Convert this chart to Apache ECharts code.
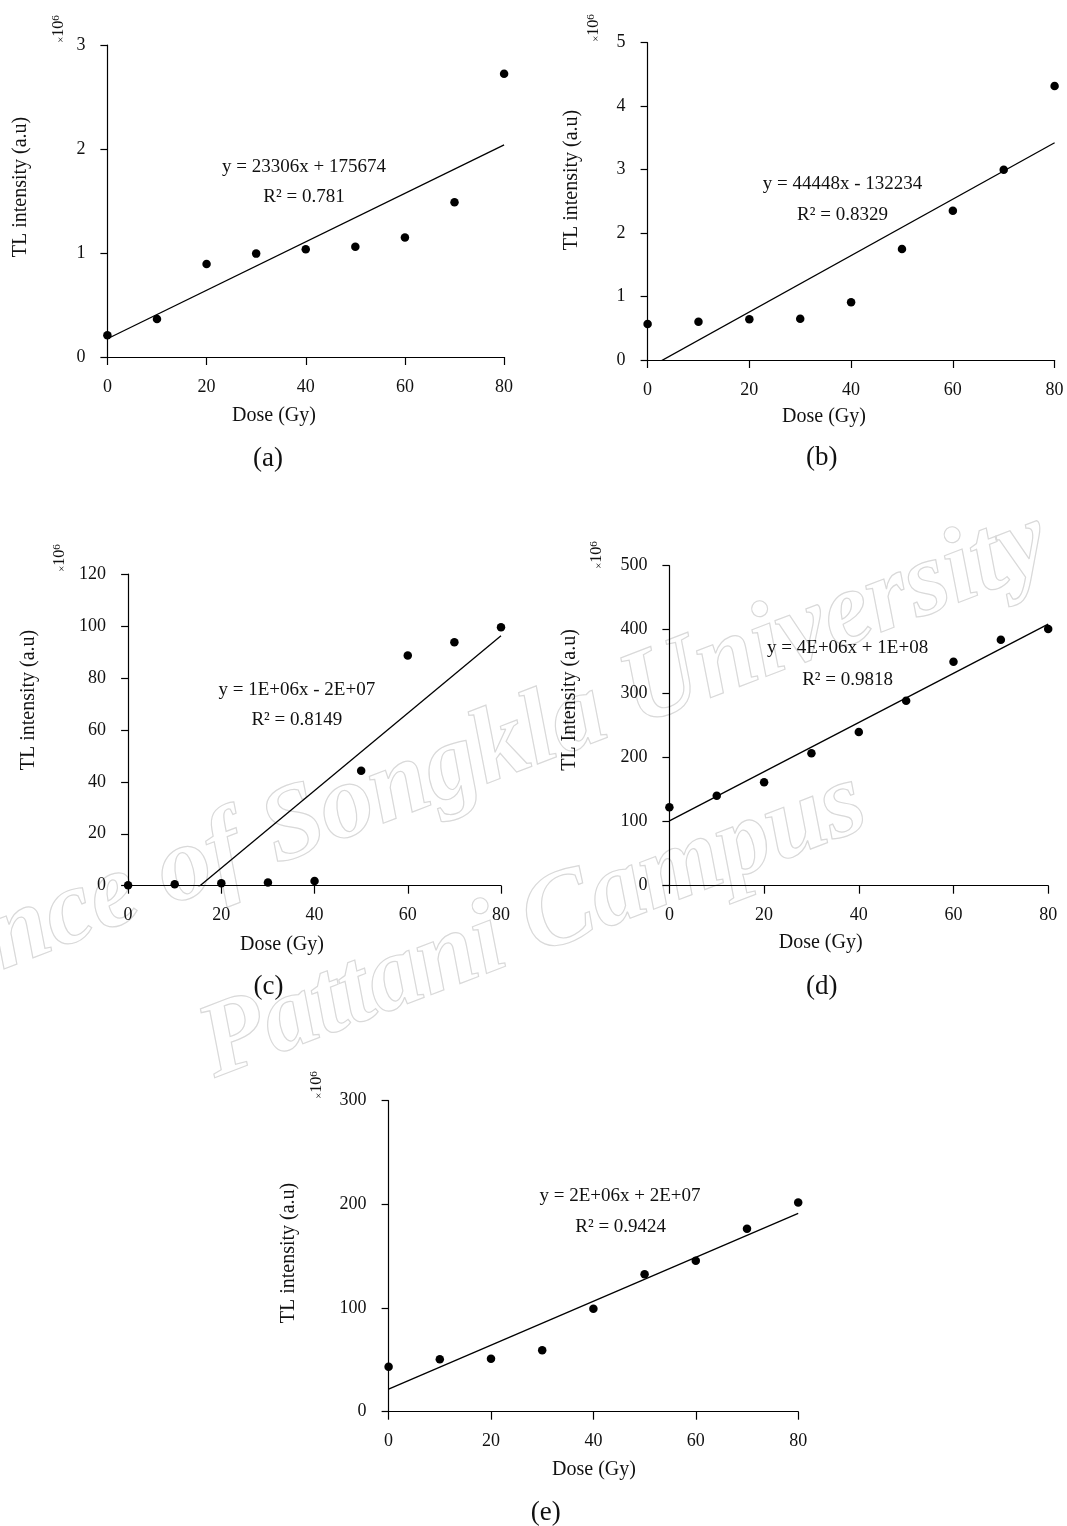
<!DOCTYPE html>
<html><head><meta charset="utf-8">
<script src="https://cdn.jsdelivr.net/npm/echarts@6/dist/echarts.min.js"></script>
<style>html,body{margin:0;padding:0;background:#fff}#chart{width:1067px;height:1526px}</style>
</head><body><div id="chart"></div>
<script>
// ---- data (TL intensity in units of 10^6) ----
const doses = [0, 10, 20, 30, 40, 50, 60, 70, 80];
const tlA = [0.21, 0.365, 0.894, 0.994, 1.035, 1.061, 1.15, 1.487, 2.724];
const tlB = [0.567, 0.604, 0.641, 0.651, 0.909, 1.749, 2.353, 2.999, 4.317];
const tlC = [0.2, 0.6, 0.9, 1.2, 1.8, 44.3, 88.6, 93.7, 99.5];
const tlD = [122.4, 140.6, 161.5, 206.8, 240.1, 289.1, 350, 384.4, 401];
const tlE = [43.4, 50.5, 51.1, 59.2, 99.4, 132.5, 145.7, 176.5, 201.9];
const trendSlope = [0.023306, 0.044448, 1.49, 3.84, 2.12];
const trendIntercept = [0.175674, -0.132234, -23.0, 101.4, 21.8];
const yMax = [3, 5, 120, 500, 300];
const yStep = [1, 1, 20, 100, 100];
const xMax = 80, xStep = 20;
const equations = ['y = 23306x + 175674', 'y = 44448x - 132234', 'y = 1E+06x - 2E+07', 'y = 4E+06x + 1E+08', 'y = 2E+06x + 2E+07'];
const rSquared = ['R\u00B2 = 0.781', 'R\u00B2 = 0.8329', 'R\u00B2 = 0.8149', 'R\u00B2 = 0.9818', 'R\u00B2 = 0.9424'];
const panelLabels = ['(a)', '(b)', '(c)', '(d)', '(e)'];
const yTitles = ['TL intensity (a.u)', 'TL intensity (a.u)', 'TL intensity (a.u)', 'TL Intensity (a.u)', 'TL intensity (a.u)'];
const xTitle = 'Dose (Gy)';
const watermark1 = 'Prince of Songkla University';
const watermark2 = 'Pattani Campus';
const panelData = [tlA, tlB, tlC, tlD, tlE];

// ---- layout ----
const grids = [
  {left: 107.4, top: 45, width: 396.7, height: 312},
  {left: 647.6, top: 42.7, width: 407, height: 317.3},
  {left: 128.1, top: 574, width: 372.9, height: 311.7},
  {left: 669.4, top: 565.7, width: 378.8, height: 320},
  {left: 388.6, top: 1100.7, width: 409.6, height: 311}
];
const pos = [
  {xt: [274, 416], pl: [268, 459], yt: [20.7, 187], mu: [58.5, 29], eq: [304, 167], r2: [304, 197]},
  {xt: [824, 417], pl: [821.7, 458], yt: [572, 180], mu: [593.8, 28], eq: [842.5, 184], r2: [842.5, 215]},
  {xt: [282, 945], pl: [268.6, 987], yt: [29, 700], mu: [60, 558], eq: [296.8, 690], r2: [296.8, 720]},
  {xt: [820.7, 943], pl: [821.7, 987], yt: [570, 700], mu: [597, 555], eq: [847.6, 648], r2: [847.6, 680]},
  {xt: [594, 1470], pl: [545.7, 1513], yt: [288.6, 1253], mu: [317, 1085], eq: [620, 1196], r2: [620.7, 1226.7]}
];
const FONT = '"Liberation Serif", "DejaVu Serif", serif';
const TXT = '#111111';

const chart = echarts.init(document.getElementById('chart'), null, {renderer: 'canvas'});

const xAxes = [], yAxes = [], seriesList = [], graphics = [];
grids.forEach((g, i) => {
  xAxes.push({
    gridIndex: i, type: 'value', min: 0, max: xMax, interval: xStep, z: 3,
    axisLine: {show: true, onZero: false, lineStyle: {color: '#000', width: 1.2}},
    axisTick: {show: true, inside: false, length: 8, lineStyle: {color: '#000', width: 1.2}},
    splitLine: {show: false},
    axisLabel: {color: TXT, fontFamily: FONT, fontSize: 18, margin: 21}
  });
  yAxes.push({
    gridIndex: i, type: 'value', min: 0, max: yMax[i], interval: yStep[i], z: 3,
    axisLine: {show: true, onZero: false, lineStyle: {color: '#000', width: 1.2}},
    axisTick: {show: true, inside: false, length: 7, lineStyle: {color: '#000', width: 1.2}},
    splitLine: {show: false},
    axisLabel: {color: TXT, fontFamily: FONT, fontSize: 18, margin: 22}
  });
  seriesList.push({
    type: 'line', xAxisIndex: i, yAxisIndex: i, clip: true,
    showSymbol: false, symbol: 'none', silent: true,
    lineStyle: {color: '#000', width: 1.3},
    data: [[0, trendIntercept[i]], [xMax, trendSlope[i] * xMax + trendIntercept[i]]],
    z: 4
  });
  seriesList.push({
    type: 'scatter', xAxisIndex: i, yAxisIndex: i,
    symbol: 'circle', symbolSize: 8.5,
    itemStyle: {color: '#000', opacity: 1},
    data: doses.map((d, k) => [d, panelData[i][k]]),
    z: 5
  });
  const p = pos[i];
  const txt = (text, xy, size, extra) => Object.assign({
    type: 'text', x: xy[0], y: xy[1], silent: true, z: 10,
    style: {text: text, x: 0, y: 0, font: size + 'px ' + FONT, fill: TXT, textAlign: 'center', textVerticalAlign: 'middle'}
  }, extra || {});
  graphics.push(txt(equations[i], p.eq, 19));
  graphics.push(txt(rSquared[i], p.r2, 19));
  graphics.push(txt(xTitle, p.xt, 20));
  graphics.push(txt(panelLabels[i], p.pl, 27));
  graphics.push(txt(yTitles[i], p.yt, 20, {rotation: Math.PI / 2}));
  graphics.push({
    type: 'text', x: p.mu[0], y: p.mu[1], rotation: Math.PI / 2, silent: true, z: 10,
    style: {
      text: '{m|\u00D7}{n|10}{s|6}', x: 0, y: 0, textAlign: 'center', textVerticalAlign: 'middle',
      fill: TXT,
      rich: {
        m: {fontFamily: FONT, fontSize: 11, fill: TXT, verticalAlign: 'bottom'},
        n: {fontFamily: FONT, fontSize: 16, fill: TXT, verticalAlign: 'bottom'},
        s: {fontFamily: FONT, fontSize: 11, fill: TXT, verticalAlign: 'top'}
      }
    }
  });
});

// watermark (faint outlined text behind the charts)
const rot = 21 * Math.PI / 180;
const wmStyle = {x: 0, y: 0, font: 'italic bold 106px "Liberation Serif"', fill: 'rgba(255,255,255,0)',
  stroke: '#d9d9d9', lineWidth: 1.2, textAlign: 'right', textVerticalAlign: 'middle'};
graphics.push({
  type: 'text', x: 1045, y: 540, rotation: rot, silent: true, z: 0, zlevel: 0,
  style: Object.assign({text: watermark1}, wmStyle)
});
graphics.push({
  type: 'text', x: 862, y: 800, rotation: rot, silent: true, z: 0, zlevel: 0,
  style: Object.assign({text: watermark2}, wmStyle)
});

chart.setOption({
  animation: false,
  backgroundColor: '#ffffff',
  grid: grids.map(g => Object.assign({containLabel: false}, g)),
  xAxis: xAxes,
  yAxis: yAxes,
  series: seriesList,
  graphic: {elements: graphics}
});
</script>
</body></html>
